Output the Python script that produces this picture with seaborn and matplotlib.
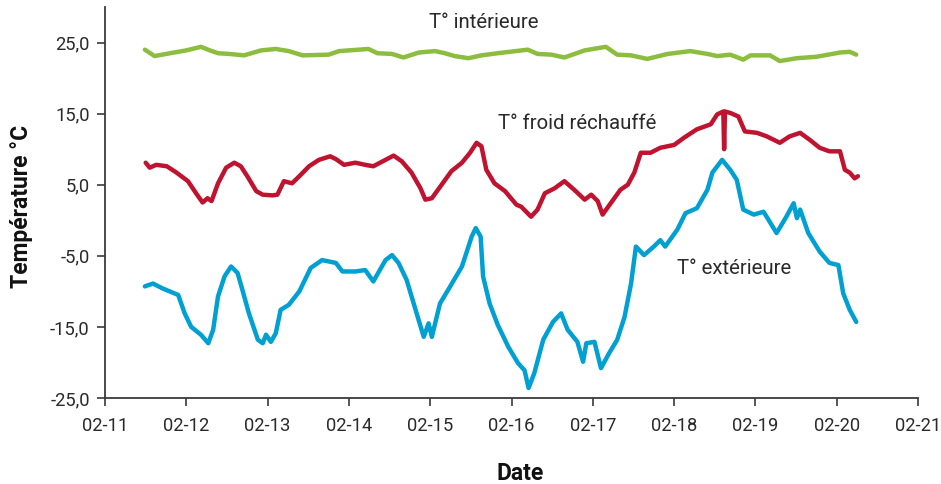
import pandas as pd
import numpy as np
import matplotlib
matplotlib.use("Agg")
import matplotlib.pyplot as plt
import matplotlib.dates as mdates
import matplotlib.ticker as mticker
import seaborn as sns

sns.set_style("white")
plt.rcParams["font.family"] = ["Roboto", "DejaVu Sans"]

# fractional days since 02-11 00:00, temperatures in °C
int_days = [0.49, 0.61, 0.80, 1.00, 1.18, 1.29, 1.39, 1.53, 1.71, 1.92, 2.10, 2.26,
            2.43, 2.75, 2.88, 3.12, 3.24, 3.35, 3.53, 3.67, 3.86, 4.06, 4.18, 4.30,
            4.47, 4.63, 4.83, 5.20, 5.32, 5.49, 5.65, 5.90, 6.16, 6.30, 6.47, 6.67,
            6.92, 7.20, 7.41, 7.53, 7.69, 7.85, 7.94, 8.18, 8.30, 8.51, 8.75, 9.04,
            9.16, 9.24]
int_temp = [24.0, 23.1, 23.5, 23.9, 24.4, 23.9, 23.5, 23.4, 23.2, 23.9, 24.1, 23.8,
            23.2, 23.3, 23.8, 24.0, 24.1, 23.5, 23.4, 22.9, 23.6, 23.8, 23.5, 23.1,
            22.8, 23.2, 23.5, 24.0, 23.4, 23.3, 22.9, 23.9, 24.4, 23.3, 23.2, 22.7,
            23.4, 23.8, 23.4, 23.1, 23.3, 22.6, 23.2, 23.2, 22.4, 22.8, 23.0, 23.6,
            23.7, 23.3]

froid_days = [0.50, 0.55, 0.63, 0.76, 0.88, 1.02, 1.12, 1.20, 1.26, 1.31, 1.39, 1.49,
              1.59, 1.67, 1.75, 1.86, 1.94, 2.06, 2.12, 2.20, 2.30, 2.39, 2.51, 2.63,
              2.77, 2.84, 2.94, 3.08, 3.20, 3.30, 3.45, 3.55, 3.65, 3.77, 3.88, 3.94,
              4.02, 4.14, 4.26, 4.39, 4.49, 4.57, 4.63, 4.69, 4.79, 4.92, 5.06, 5.12,
              5.24, 5.32, 5.41, 5.53, 5.65, 5.77, 5.90, 5.98, 6.06, 6.12, 6.22, 6.34,
              6.43, 6.51, 6.59, 6.71, 6.83, 7.00, 7.12, 7.28, 7.45, 7.53, 7.605, 7.615,
              7.625, 7.69, 7.79, 7.87, 8.02, 8.14, 8.30, 8.42, 8.55, 8.67, 8.79, 8.91,
              9.04, 9.10, 9.16, 9.22, 9.26]
froid_temp = [8.1, 7.4, 7.8, 7.6, 6.7, 5.5, 3.8, 2.5, 3.1, 2.7, 5.2, 7.4,
              8.1, 7.6, 6.2, 4.1, 3.6, 3.5, 3.6, 5.5, 5.2, 6.2, 7.6, 8.5,
              9.0, 8.6, 7.8, 8.1, 7.8, 7.6, 8.5, 9.1, 8.3, 6.7, 4.5, 2.9,
              3.1, 5.0, 6.9, 8.1, 9.5, 10.9, 10.4, 7.1, 5.2, 4.1, 2.2, 1.9,
              0.5, 1.5, 3.8, 4.5, 5.5, 4.3, 2.9, 3.6, 2.7, 0.8, 2.4, 4.3,
              5.0, 6.7, 9.5, 9.5, 10.2, 10.6, 11.6, 12.8, 13.5, 14.9, 15.3, 10.0,
              15.3, 15.1, 14.6, 12.5, 12.3, 11.8, 10.9, 11.8, 12.3, 11.3, 10.2, 9.7,
              9.7, 7.1, 6.7, 5.9, 6.2]

ext_days = [0.49, 0.59, 0.71, 0.90, 0.98, 1.06, 1.18, 1.27, 1.33, 1.39, 1.47, 1.55,
            1.63, 1.69, 1.77, 1.88, 1.94, 1.98, 2.04, 2.10, 2.16, 2.26, 2.39, 2.53,
            2.67, 2.84, 2.92, 3.08, 3.20, 3.30, 3.45, 3.53, 3.61, 3.71, 3.82, 3.92,
            3.98, 4.02, 4.12, 4.22, 4.39, 4.51, 4.56, 4.62, 4.65, 4.73, 4.83, 4.96,
            5.08, 5.16, 5.21, 5.28, 5.39, 5.51, 5.61, 5.69, 5.81, 5.88, 5.92, 6.02,
            6.10, 6.20, 6.30, 6.39, 6.47, 6.53, 6.63, 6.75, 6.83, 6.89, 7.04, 7.14,
            7.28, 7.41, 7.47, 7.59, 7.69, 7.77, 7.85, 7.98, 8.10, 8.26, 8.38, 8.47,
            8.51, 8.55, 8.65, 8.79, 8.91, 9.02, 9.08, 9.16, 9.24]
ext_temp = [-9.3, -8.9, -9.6, -10.5, -13.1, -15.0, -16.1, -17.3, -15.4, -10.7, -7.9, -6.5,
            -7.4, -9.8, -13.1, -16.8, -17.3, -16.1, -17.1, -15.9, -12.6, -11.9, -10.0, -6.7,
            -5.6, -6.0, -7.2, -7.2, -7.0, -8.6, -5.6, -4.9, -6.0, -8.4, -12.6, -16.4,
            -14.5, -16.4, -11.7, -9.8, -6.5, -2.3, -1.1, -2.3, -7.9, -11.7, -14.7, -17.8,
            -20.1, -21.1, -23.6, -21.5, -16.8, -14.3, -13.1, -15.4, -17.1, -19.9, -17.3, -17.1,
            -20.8, -18.7, -16.8, -13.6, -8.9, -3.7, -4.9, -3.7, -2.8, -3.7, -1.3, 1.0,
            1.7, 4.3, 6.7, 8.5, 7.1, 5.7, 1.5, 0.8, 1.2, -1.8, 0.5, 2.4,
            0.3, 1.5, -1.8, -4.4, -6.0, -6.3, -10.3, -12.6, -14.3]

series_names = ["T° intérieure", "T° froid réchauffé", "T° extérieure"]
series_colors = ["#8cbd3f", "#c0132f", "#00a0d2"]

base = pd.Timestamp("2021-02-11")
frames = []
for name, d, t in zip(series_names, [int_days, froid_days, ext_days],
                      [int_temp, froid_temp, ext_temp]):
    frames.append(pd.DataFrame({
        "time": base + pd.to_timedelta(d, unit="D"),
        "temp": t,
        "serie": name,
    }))
df = pd.concat(frames, ignore_index=True)

fig = plt.figure(figsize=(9.41, 4.84), dpi=100)
ax = fig.add_axes([0.1116, 0.1777, 0.864, 0.8078])

sns.lineplot(data=df, x="time", y="temp", hue="serie", hue_order=series_names,
             palette=series_colors, linewidth=3.2, legend=False, ax=ax,
             estimator=None, sort=False)

ax.set_xlim(base, base + pd.Timedelta(days=10))
ax.set_ylim(-25, 30)
ax.xaxis.set_major_locator(mdates.DayLocator())
ax.xaxis.set_major_formatter(mdates.DateFormatter("%m-%d"))
ax.set_yticks([-25, -15, -5, 5, 15, 25])
ax.yaxis.set_major_formatter(mticker.FuncFormatter(lambda v, p: f"{v:.1f}".replace(".", ",")))

for s in ["top", "right"]:
    ax.spines[s].set_visible(False)
for s in ["left", "bottom"]:
    ax.spines[s].set_color("#3a3a3a")
    ax.spines[s].set_linewidth(1.3)
ax.tick_params(axis="both", direction="out", length=6, width=1.2, color="#3a3a3a",
               labelsize=13.2, labelcolor="#2a2a2a", left=True, bottom=True)
ax.tick_params(axis="y", pad=5)
ax.tick_params(axis="x", pad=8)

ax.set_xlabel("Date", fontsize=16.5, fontweight="bold", color="#111111")
ax.set_ylabel("Température °C", fontsize=16.5, fontweight="bold", color="#111111")
ax.xaxis.set_label_coords(0.51, -0.194)
ax.xaxis.label.set_va("center")
ax.yaxis.set_label_coords(-0.103, 0.491)
ax.yaxis.label.set_va("center")

label_pos = [(3.98, 27.8), (4.83, 13.6), (7.04, -6.8)]
for name, (d, v) in zip(series_names, label_pos):
    ax.text(base + pd.Timedelta(days=d), v, name, fontsize=14.7, color="#2a2a2a",
            ha="left", va="center")

fig.savefig("out.png", dpi=100)
